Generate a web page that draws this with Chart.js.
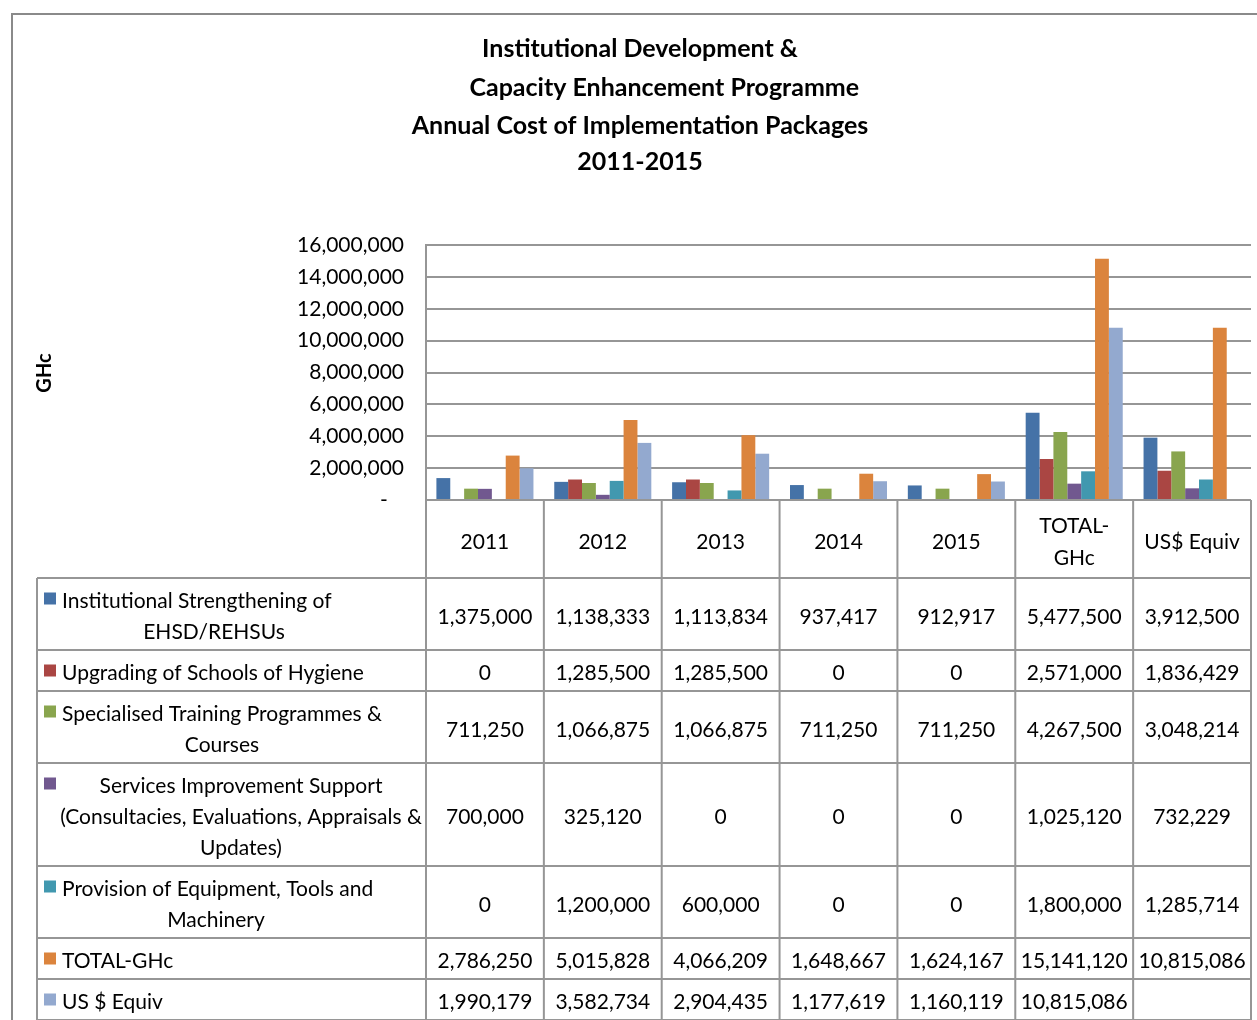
<!DOCTYPE html>
<html>
<head>
<meta charset="utf-8">
<title>Institutional Development &amp; Capacity Enhancement Programme</title>
<script src="https://cdn.jsdelivr.net/npm/chart.js@4.4.1/dist/chart.umd.min.js"></script>
<style>
  html, body { margin: 0; padding: 0; background: #fff; }
  #wrap { width: 1257px; height: 1020px; position: relative; }
</style>
</head>
<body>
<div id="wrap"><canvas id="costChart"></canvas></div>
<script>
// Column headings (years plus the two summary columns)
const categories = ['2011', '2012', '2013', '2014', '2015', ['TOTAL-', 'GHc'], 'US$ Equiv'];

// Cost per package, GHc
const institutional = [1375000, 1138333, 1113834, 937417, 912917, 5477500, 3912500];
const upgrading = [0, 1285500, 1285500, 0, 0, 2571000, 1836429];
const training = [711250, 1066875, 1066875, 711250, 711250, 4267500, 3048214];
const services = [700000, 325120, 0, 0, 0, 1025120, 732229];
const equipment = [0, 1200000, 600000, 0, 0, 1800000, 1285714];
const totalGhc = [2786250, 5015828, 4066209, 1648667, 1624167, 15141120, 10815086];
const usEquiv = [1990179, 3582734, 2904435, 1177619, 1160119, 10815086, null];

// Row captions, already broken into lines
const seriesNames = [
  ['Institutional Strengthening of', 'EHSD/REHSUs'],
  ['Upgrading of Schools of Hygiene'],
  ['Specialised Training Programmes &', 'Courses'],
  ['Services Improvement Support', '(Consultacies, Evaluations, Appraisals &', 'Updates)'],
  ['Provision of Equipment, Tools and', 'Machinery'],
  ['TOTAL-GHc'],
  ['US $ Equiv']
];
const seriesValues = [institutional, upgrading, training, services, equipment, totalGhc, usEquiv];
const seriesColors = ['#4572A7', '#AA4643', '#89A54E', '#71588F', '#4198AF', '#DB843D', '#93A9CF'];

const titleLines = ['Institutional Development &', '        Capacity Enhancement Programme',
  'Annual Cost of Implementation Packages', '2011-2015'];
const yTitle = 'GHc';
const yMax = 16000000;
const yStep = 2000000;

const FONT = 'Lato, "Open Sans", sans-serif';
const LINE = '#969696';

function fmt(v) {
  return v === null ? '' : v.toLocaleString('en-US');
}

// Frame, title, axis caption and the data table under the plot
const tablePlugin = {
  id: 'dataTable',
  afterDraw(chart) {
    const { ctx, chartArea } = chart;
    const W = chart.width, H = chart.height;
    const n = categories.length;
    const colW = (chartArea.right - chartArea.left) / n;
    const edges = [];
    for (let i = 0; i <= n; i++) edges.push(chartArea.left + i * colW);

    ctx.save();

    // outer frame
    ctx.strokeStyle = '#8a8a8a';
    ctx.lineWidth = 2;
    ctx.beginPath();
    ctx.moveTo(12, H);
    ctx.lineTo(12, 14);
    ctx.lineTo(W, 14);
    ctx.stroke();

    // title
    ctx.fillStyle = '#000';
    ctx.textAlign = 'center';
    ctx.textBaseline = 'middle';
    ctx.font = 'bold 25px ' + FONT;
    const titleY = [49, 88, 126, 162];
    titleLines.forEach((t, i) => ctx.fillText(t, 640, titleY[i]));

    // y axis caption
    ctx.save();
    ctx.translate(45, 373);
    ctx.rotate(-Math.PI / 2);
    ctx.font = 'bold 20px ' + FONT;
    ctx.fillText(yTitle, 0, 0);
    ctx.restore();

    // table geometry
    const lineH = 31;
    const nudge = 3;
    const headTop = chartArea.bottom;
    const headBottom = 578;
    const tableLeft = 37;
    const rowTops = [headBottom];
    seriesNames.forEach(lines => rowTops.push(rowTops[rowTops.length - 1] + lines.length * lineH + 10));
    const tableBottom = rowTops[rowTops.length - 1];

    // grid of the table
    ctx.strokeStyle = LINE;
    ctx.lineWidth = 2;
    ctx.beginPath();
    ctx.moveTo(tableLeft, headBottom);
    ctx.lineTo(tableLeft, tableBottom);
    edges.forEach(x => { ctx.moveTo(x, headTop); ctx.lineTo(x, tableBottom); });
    ctx.moveTo(edges[0], headTop);
    ctx.lineTo(edges[n], headTop);
    rowTops.forEach(y => { ctx.moveTo(tableLeft, y); ctx.lineTo(edges[n], y); });
    ctx.stroke();

    ctx.font = '21px ' + FONT;
    ctx.fillStyle = '#000';

    // header labels
    categories.forEach((c, i) => {
      const lines = Array.isArray(c) ? c : [c];
      const cx = (edges[i] + edges[i + 1]) / 2;
      const cy = (headTop + headBottom) / 2 + nudge;
      lines.forEach((l, k) => {
        ctx.fillText(l, cx, cy + (k - (lines.length - 1) / 2) * 32);
      });
    });

    // row captions with colour keys, and the values
    const wrapCentre = [214, 0, 222, 241, 216, 0, 0];
    seriesNames.forEach((lines, r) => {
      const cy = (rowTops[r] + rowTops[r + 1]) / 2 + nudge;
      lines.forEach((l, k) => {
        const ly = cy + (k - (lines.length - 1) / 2) * lineH;
        if (k === 0) {
          ctx.fillStyle = seriesColors[r];
          ctx.fillRect(44, ly - 9, 12, 12);
          ctx.fillStyle = '#000';
        }
        if (k === 0 && lines.length < 3) {
          ctx.textAlign = 'left';
          ctx.fillText(l, 62, ly);
        } else {
          ctx.textAlign = 'center';
          ctx.fillText(l, wrapCentre[r], ly);
        }
      });
      ctx.textAlign = 'center';
      seriesValues[r].forEach((v, i) => {
        ctx.fillText(fmt(v), (edges[i] + edges[i + 1]) / 2, cy);
      });
    });

    ctx.restore();
  }
};

document.addEventListener('DOMContentLoaded', function () {
  const ctx = document.getElementById('costChart').getContext('2d');
  new Chart(ctx, {
    type: 'bar',
    data: {
      labels: categories,
      datasets: seriesNames.map((name, i) => ({
        label: name.join(' '),
        data: seriesValues[i],
        backgroundColor: seriesColors[i],
        borderWidth: 0,
        categoryPercentage: 7 / 8.5,
        barPercentage: 1.0
      }))
    },
    options: {
      responsive: true,
      maintainAspectRatio: false,
      animation: false,
      layout: { padding: { left: 0, right: 6, top: 245, bottom: 520 } },
      plugins: {
        legend: { display: false },
        title: { display: false },
        tooltip: { enabled: false }
      },
      scales: {
        x: { display: false },
        y: {
          min: 0,
          max: yMax,
          afterFit(scale) { scale.width = 426; },
          ticks: {
            stepSize: yStep,
            padding: 22,
            color: '#000',
            font: { family: FONT, size: 21 },
            callback: v => (v === 0 ? '-   ' : v.toLocaleString('en-US'))
          },
          grid: { color: LINE, lineWidth: 2, drawTicks: false },
          border: { color: LINE, width: 2 }
        }
      }
    },
    plugins: [tablePlugin]
  });
});
</script>
</body>
</html>
